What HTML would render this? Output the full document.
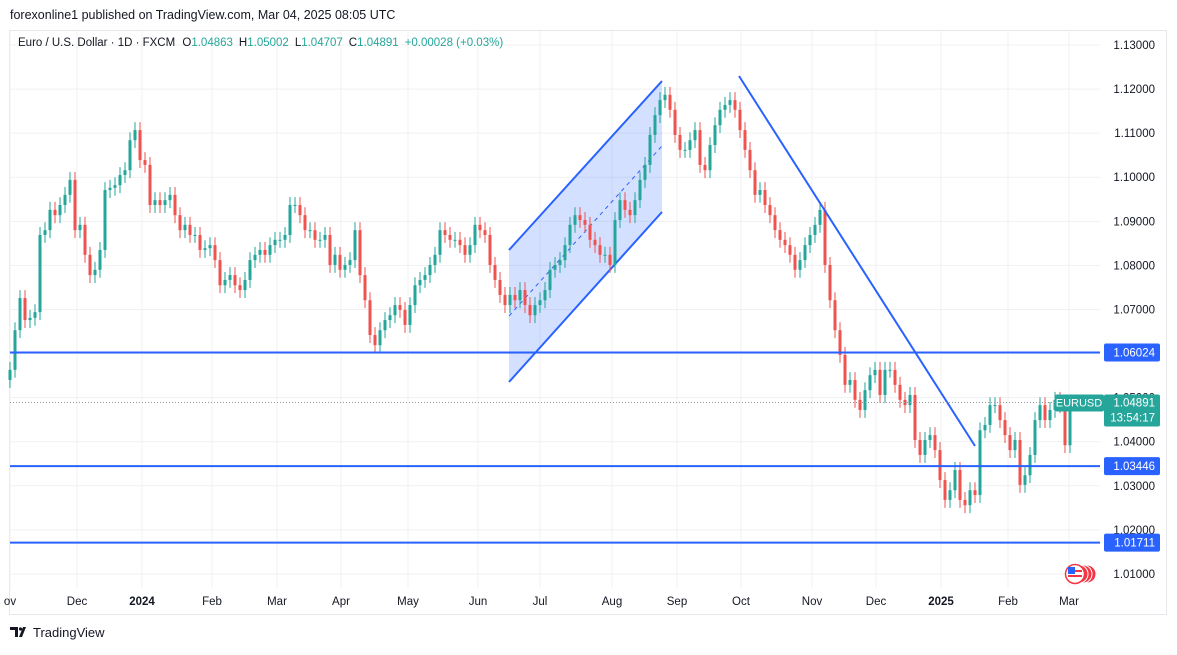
<!DOCTYPE html>
<html><head><meta charset="utf-8">
<style>
body{margin:0;background:#fff;width:1177px;height:650px;overflow:hidden;font-family:"Liberation Sans",sans-serif;}
svg text{font-family:"Liberation Sans",sans-serif;}
</style></head>
<body>
<svg id="chart" width="1177" height="650" xmlns="http://www.w3.org/2000/svg">
<text x="10" y="19" font-size="12.5" fill="#131722">forexonline1 published on TradingView.com, Mar 04, 2025 08:05 UTC</text>
<rect x="9.5" y="30.5" width="1157" height="584" fill="none" stroke="#e6e7ea"/>
<g id="grid"></g>
<g id="drawings"></g>
<g id="candles"></g>
<g id="axes"></g>
<g id="overlay"></g>
<text x="18" y="46" font-size="11.5" fill="#131722">Euro / U.S. Dollar · 1D · FXCM <tspan dx="4">O</tspan><tspan fill="#26a69a">1.04863</tspan><tspan dx="6">H</tspan><tspan fill="#26a69a">1.05002</tspan><tspan dx="6">L</tspan><tspan fill="#26a69a">1.04707</tspan><tspan dx="6">C</tspan><tspan fill="#26a69a">1.04891</tspan><tspan dx="6" fill="#26a69a">+0.00028 (+0.03%)</tspan></text>
<g>
<path d="M10 627h8v10h-3v-7h-5z M19 637l4-10h3l-4 10z" fill="#131722"/>
<circle cx="20.5" cy="629" r="1.6" fill="#131722"/>
<text x="33" y="637" font-size="13" fill="#131722">TradingView</text>
</g>
</svg>
<script>
const closes=[1.0563,1.0653,1.0726,1.0676,1.0681,1.0694,1.0869,1.0880,1.0926,1.0914,1.0937,1.0960,1.0994,1.0880,1.0892,1.0824,1.0778,1.0790,1.0835,1.0971,1.0976,1.0982,1.1005,1.1016,1.1084,1.1107,1.1039,1.1028,1.0937,1.0948,1.0937,1.0948,1.0960,1.0914,1.0880,1.0892,1.0869,1.0869,1.0835,1.0839,1.0846,1.0812,1.0755,1.0767,1.0778,1.0755,1.0744,1.0767,1.0812,1.0824,1.0835,1.0824,1.0846,1.0858,1.0858,1.0869,1.0937,1.0937,1.0914,1.0880,1.0880,1.0858,1.0858,1.0869,1.0801,1.0824,1.0790,1.0801,1.0812,1.0880,1.0778,1.0721,1.0642,1.0619,1.0653,1.0676,1.0687,1.0710,1.0699,1.0665,1.0710,1.0755,1.0767,1.0778,1.0801,1.0824,1.0880,1.0869,1.0858,1.0858,1.0846,1.0824,1.0846,1.0892,1.0880,1.0869,1.0801,1.0767,1.0733,1.0710,1.0733,1.0721,1.0744,1.0710,1.0687,1.0710,1.0721,1.0744,1.0790,1.0801,1.0812,1.0846,1.0892,1.0914,1.0903,1.0892,1.0858,1.0846,1.0824,1.0824,1.0801,1.0903,1.0948,1.0926,1.0914,1.0948,1.0994,1.1028,1.1096,1.1141,1.1175,1.1187,1.1153,1.1096,1.1062,1.1062,1.1084,1.1107,1.1028,1.1016,1.1073,1.1118,1.1153,1.1164,1.1175,1.1153,1.1107,1.1062,1.1016,1.0960,1.0971,1.0937,1.0914,1.0880,1.0858,1.0846,1.0824,1.0790,1.0812,1.0846,1.0869,1.0892,1.0926,1.0801,1.0721,1.0653,1.0597,1.0529,1.0540,1.0495,1.0472,1.0517,1.0551,1.0563,1.0506,1.0563,1.0563,1.0529,1.0495,1.0483,1.0506,1.0404,1.0370,1.0404,1.0415,1.0381,1.0313,1.0268,1.0290,1.0336,1.0268,1.0256,1.0290,1.0279,1.0426,1.0438,1.0483,1.0483,1.0449,1.0415,1.0381,1.0404,1.0302,1.0324,1.0370,1.0449,1.0483,1.0449,1.0472,1.0495,1.0483,1.0392,1.04891];
const firstOpen=1.0540;
const priceTicks=["1.13000","1.12000","1.11000","1.10000","1.09000","1.08000","1.07000","1.06000","1.05000","1.04000","1.03000","1.02000","1.01000"];
const monthLabels=["ov","Dec","2024","Feb","Mar","Apr","May","Jun","Jul","Aug","Sep","Oct","Nov","Dec","2025","Feb","Mar"];
const monthIdx=[0,13.4,26.4,40.4,53.4,66.2,79.6,93.6,106,120.4,133.4,146.2,160.4,173.2,186.2,199.6,211.8];
const levels=[1.06024,1.03446,1.01711];
const lastPrice=1.04891;

const NS="http://www.w3.org/2000/svg";
const Y=p=>45+(1.13-p)*4408;
const X=i=>10+i*5;
function el(tag,attrs,parent){const e=document.createElementNS(NS,tag);for(const k in attrs)e.setAttribute(k,attrs[k]);parent.appendChild(e);return e;}
const grid=document.getElementById('grid'),cg=document.getElementById('candles'),dr=document.getElementById('drawings'),ov=document.getElementById('overlay'),ax=document.getElementById('axes');

priceTicks.forEach(t=>{const y=Y(parseFloat(t));
 const l=el('line',{x1:10,x2:1100,y1:y,y2:y,stroke:'#f0f1f3'},grid);
 
 
 const tx=el('text',{x:1155,y:y+4,'font-size':11.5,fill:'#131722','text-anchor':'end'},ax);tx.textContent=t;
 
 
});
monthLabels.forEach((m,k)=>{const x=X(monthIdx[k]);
 const l=el('line',{x1:x,x2:x,y1:31,y2:588,stroke:'#f0f1f3'},grid);
 
 
 const tx=el('text',{x:x,y:605,'font-size':11.5,fill:'#131722','text-anchor':'middle','font-weight':(m==='2024'||m==='2025')?'bold':'normal'},ax);tx.textContent=m;
 
 
});

const ch=el('polygon',{points:'509,250 662,81 662,212 509,382',fill:'rgba(41,98,255,0.2)'},dr);


[[509,250,662,81],[509,382,662,212]].forEach(a=>{const l=el('line',{x1:a[0],y1:a[1],x2:a[2],y2:a[3],stroke:'#2962ff','stroke-width':2},dr);
 
 });
const mid=el('line',{x1:509,y1:316,x2:662,y2:146,stroke:'#2962ff','stroke-width':1,'stroke-dasharray':'4 4'},dr);



let prev=firstOpen;
closes.forEach((c,i)=>{const o=prev;prev=c;const x=X(i);const up=c>=o;const col=up?'#26a69a':'#ef5350';
 const hi=Math.max(o,c)+0.0018,lo=Math.min(o,c)-0.0018;
 const w=el('line',{x1:x,x2:x,y1:Y(hi),y2:Y(lo),stroke:col,'stroke-width':1},cg);
 
 
 const t=Math.min(Y(o),Y(c)),h=Math.max(1,Math.abs(Y(o)-Y(c)));
 const b=el('rect',{x:x-1.5,y:t,width:3,height:h,fill:col},cg);
 
 
});

levels.forEach(p=>{const y=Y(p);
 const l=el('line',{x1:10,x2:1100,y1:y,y2:y,stroke:'#2962ff','stroke-width':2},ov);
 
 
 const r=el('rect',{x:1104,y:y-9,width:56,height:18,fill:'#2962ff',rx:2},ov);
 
 
 const tx=el('text',{x:1155,y:y+4,'font-size':11.5,fill:'#fff','text-anchor':'end'},ov);tx.textContent=p.toFixed(5);
 
 
});
const tl=el('line',{x1:739,y1:76,x2:975,y2:446,stroke:'#2962ff','stroke-width':2},ov);


const ly=Y(lastPrice);
const dl=el('line',{x1:10,x2:1100,y1:ly,y2:ly,stroke:'#9598a1','stroke-dasharray':'1 2'},ov);


const sb=el('rect',{x:1055,y:ly-8,width:49,height:17,fill:'#26a69a',rx:2},ov);


const st=el('text',{x:1079,y:ly+4,'font-size':11,fill:'#fff','text-anchor':'middle'},ov);st.textContent='EURUSD';


const pb=el('rect',{x:1104,y:ly-8,width:56,height:32,fill:'#26a69a',rx:2},ov);


const pt=el('text',{x:1155,y:ly+4,'font-size':11.5,fill:'#fff','text-anchor':'end'},ov);pt.textContent=lastPrice.toFixed(5);


const ct=el('text',{x:1155,y:ly+19,'font-size':11.5,fill:'#fff','text-anchor':'end'},ov);ct.textContent='13:54:17';


[1087,1083,1079].forEach(cx=>{const c=el('circle',{cx:cx,cy:574,r:9,fill:'#f23645',stroke:'#fff','stroke-width':1},ov);
 
 });
const fi=el('circle',{cx:1075,cy:574,r:9.5,fill:'#fff',stroke:'#f23645','stroke-width':1.5},ov);


el('rect',{x:1068,y:570,width:14,height:2,fill:'#f23645'},ov);
el('rect',{x:1068,y:575,width:14,height:2,fill:'#f23645'},ov);
el('rect',{x:1068,y:567,width:7,height:7,fill:'#2962ff'},ov);
</script>
</body></html>
